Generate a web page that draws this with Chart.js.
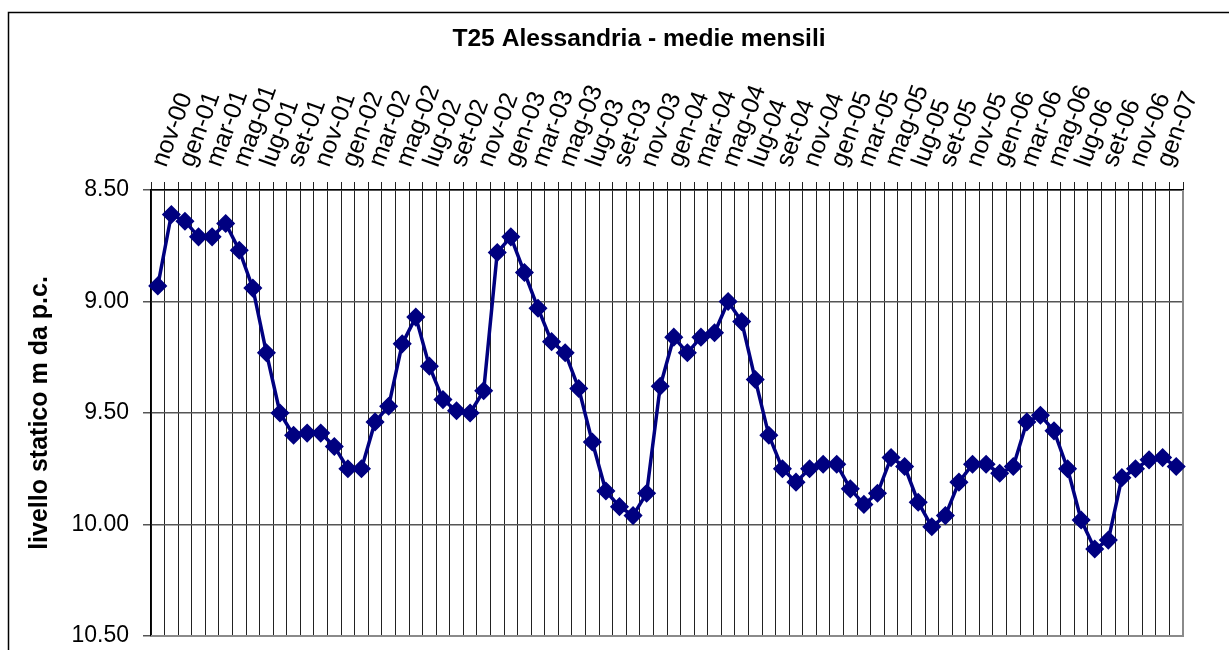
<!DOCTYPE html>
<html>
<head>
<meta charset="utf-8">
<script src="https://cdn.jsdelivr.net/npm/chart.js@4.4.1/dist/chart.umd.min.js"></script>
<style>
  html, body { margin: 0; padding: 0; background: #fff; }
  #wrap { width: 1229px; height: 650px; position: relative; }
</style>
</head>
<body>
<div id="wrap"><canvas id="chart"></canvas></div>
<script>
// Mesi (categorie) da nov-00 a feb-07
const MESI = [
  'nov-00','dic-00',
  'gen-01','feb-01','mar-01','apr-01','mag-01','giu-01','lug-01','ago-01','set-01','ott-01','nov-01','dic-01',
  'gen-02','feb-02','mar-02','apr-02','mag-02','giu-02','lug-02','ago-02','set-02','ott-02','nov-02','dic-02',
  'gen-03','feb-03','mar-03','apr-03','mag-03','giu-03','lug-03','ago-03','set-03','ott-03','nov-03','dic-03',
  'gen-04','feb-04','mar-04','apr-04','mag-04','giu-04','lug-04','ago-04','set-04','ott-04','nov-04','dic-04',
  'gen-05','feb-05','mar-05','apr-05','mag-05','giu-05','lug-05','ago-05','set-05','ott-05','nov-05','dic-05',
  'gen-06','feb-06','mar-06','apr-06','mag-06','giu-06','lug-06','ago-06','set-06','ott-06','nov-06','dic-06',
  'gen-07','feb-07'
];

// Livello statico medio mensile (m da p.c.)
const LIVELLO = [
  8.93, 8.61,
  8.64, 8.71, 8.71, 8.65, 8.77, 8.94, 9.23, 9.50, 9.60, 9.59, 9.59, 9.65,
  9.75, 9.75, 9.54, 9.47, 9.19, 9.07, 9.29, 9.44, 9.49, 9.50, 9.40, 8.78,
  8.71, 8.87, 9.03, 9.18, 9.23, 9.39, 9.63, 9.85, 9.92, 9.96, 9.86, 9.38,
  9.16, 9.23, 9.16, 9.14, 9.00, 9.09, 9.35, 9.60, 9.75, 9.81, 9.75, 9.73,
  9.73, 9.84, 9.91, 9.86, 9.70, 9.74, 9.90, 10.01, 9.96, 9.81, 9.73, 9.73,
  9.77, 9.74, 9.54, 9.51, 9.58, 9.75, 9.98, 10.11, 10.07, 9.79, 9.75, 9.71,
  9.70, 9.74
];

// Asse y (rovesciato)
const Y_MIN = 8.5;
const Y_MAX = 10.5;
const Y_STEP = 0.5;

const TITOLO = 'T25 Alessandria - medie mensili';
const TITOLO_Y = 'livello statico m da p.c.';

Chart.defaults.font.family = '"Liberation Sans", Arial, sans-serif';
Chart.defaults.color = '#000';

// Cornice esterna, bordo area grafico e titolo
const decorazioni = {
  id: 'decorazioni',
  beforeDraw(chart) {
    const ctx = chart.ctx;
    ctx.save();
    ctx.fillStyle = '#fff';
    ctx.fillRect(0, 0, chart.width, chart.height);
    ctx.strokeStyle = '#000';
    ctx.lineWidth = 1.5;
    ctx.strokeRect(8.5, 12.5, 1300, 800);
    ctx.restore();
  },
  beforeDatasetsDraw(chart) {
    const { ctx, chartArea: a } = chart;
    ctx.save();
    ctx.strokeStyle = '#8a8a8a';
    ctx.lineWidth = 2;
    ctx.beginPath();
    ctx.moveTo(a.right, a.top);
    ctx.lineTo(a.right, a.bottom);
    ctx.lineTo(a.left, a.bottom);
    ctx.stroke();
    ctx.restore();
  },
  afterDraw(chart) {
    const ctx = chart.ctx;
    ctx.save();
    ctx.font = 'bold 24.6px "Liberation Sans", Arial, sans-serif';
    ctx.fillStyle = '#000';
    ctx.textAlign = 'center';
    ctx.textBaseline = 'middle';
    ctx.fillText(TITOLO, 639, 39);
    ctx.restore();
  }
};

new Chart(document.getElementById('chart'), {
  type: 'line',
  data: {
    labels: MESI,
    datasets: [{
      label: 'T25',
      data: LIVELLO,
      borderColor: '#000080',
      backgroundColor: '#000080',
      borderWidth: 3.5,
      pointStyle: 'rectRot',
      pointRadius: 8.5,
      pointBorderWidth: 1.5,
      pointBackgroundColor: '#000080',
      pointBorderColor: '#000080',
      tension: 0
    }]
  },
  options: {
    responsive: true,
    maintainAspectRatio: false,
    animation: false,
    layout: { padding: { left: 0, top: 0, right: 46, bottom: 14 } },
    plugins: {
      legend: { display: false },
      title: { display: false },
      tooltip: { enabled: false }
    },
    scales: {
      x: {
        type: 'category',
        position: 'top',
        offset: true,
        grid: { offset: true, color: '#222', lineWidth: 1, tickLength: 8, drawTicks: true },
        border: { color: '#000', width: 1.5 },
        ticks: {
          autoSkip: false,
          maxRotation: 70,
          minRotation: 70,
          padding: 11,
          labelOffset: 30,
          font: { size: 25 },
          callback: (v, i) => (i % 2 === 0 ? MESI[i] : '')
        },
        afterFit: (s) => { s.height = 190; }
      },
      y: {
        reverse: true,
        min: Y_MIN,
        max: Y_MAX,
        grid: { color: '#555', lineWidth: 1.5, tickLength: 8 },
        border: { color: '#000', width: 1.5 },
        ticks: {
          stepSize: Y_STEP,
          padding: 14,
          font: { size: 23 },
          callback: (v) => Number(v).toFixed(2)
        },
        title: {
          display: true,
          text: TITOLO_Y,
          font: { size: 25, weight: 'bold' },
          padding: { top: 25, bottom: 0 }
        },
        afterFit: (s) => { s.width = 151; s.paddingTop = 0; s.paddingBottom = 0; }
      }
    }
  },
  plugins: [decorazioni]
});
</script>
</body>
</html>
